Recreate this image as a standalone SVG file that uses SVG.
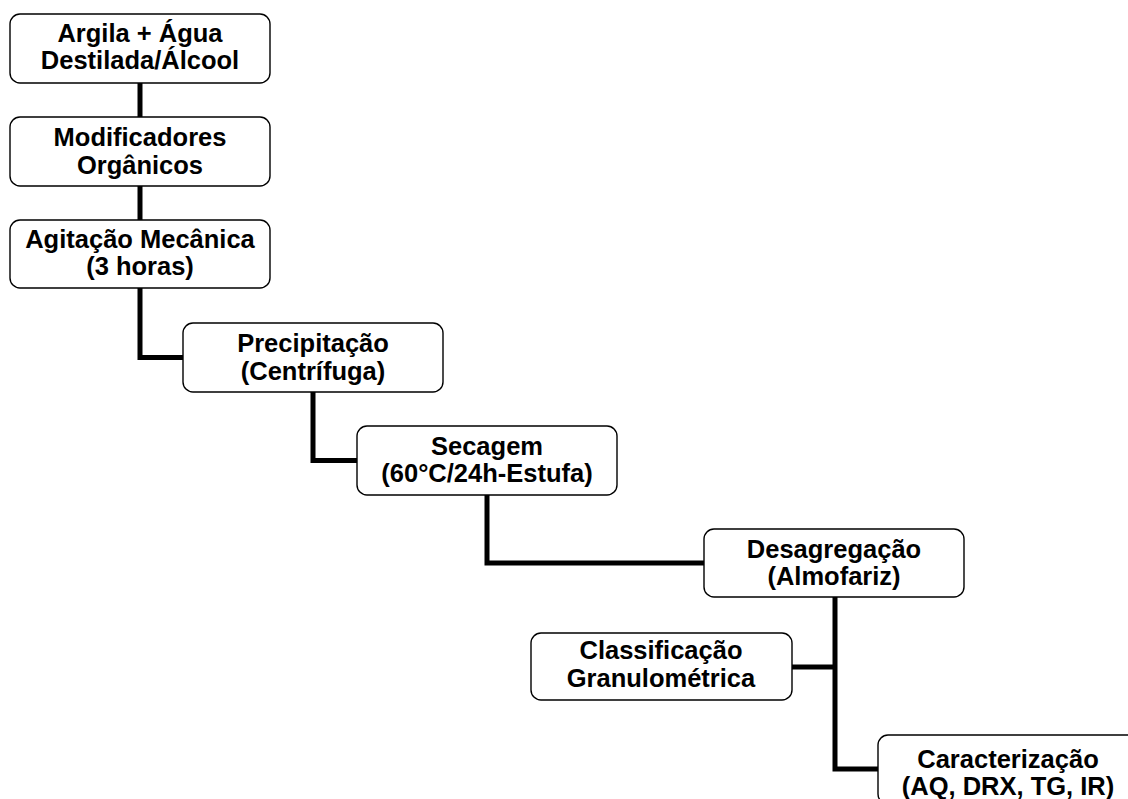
<svg xmlns="http://www.w3.org/2000/svg" width="1128" height="799" viewBox="0 0 1128 799">
<style>
.box{fill:#fff;stroke:#000;stroke-width:1.4}
.t{font-family:"Liberation Sans",Arial,sans-serif;font-weight:bold;font-size:25.5px;text-anchor:middle;fill:#000}
.c{fill:none;stroke:#000;stroke-width:5;stroke-linejoin:miter;stroke-linecap:butt}
</style>
<rect width="1128" height="799" fill="#fff"/>
<g id="connectors">
<path class="c" d="M140,83 V117"/>
<path class="c" d="M140,186 V220"/>
<path class="c" d="M140,288 V357.5 H183"/>
<path class="c" d="M313,392 V460.5 H357"/>
<path class="c" d="M487,495 V563 H704"/>
<path class="c" d="M835,597 V769 H878"/>
<path class="c" d="M792,667 H835"/>
</g>
<g id="n1"><rect class="box" x="10" y="14" width="260" height="69" rx="10"/><text class="t" x="140" y="42">Argila + Água</text><text class="t" x="140" y="69">Destilada/Álcool</text></g>
<g id="n2"><rect class="box" x="10" y="117" width="260" height="69" rx="10"/><text class="t" x="140" y="146">Modificadores</text><text class="t" x="140" y="174">Orgânicos</text></g>
<g id="n3"><rect class="box" x="10" y="220" width="260" height="68" rx="10"/><text class="t" x="140" y="248">Agitação Mecânica</text><text class="t" x="140" y="275">(3 horas)</text></g>
<g id="n4"><rect class="box" x="183" y="323" width="260" height="69" rx="10"/><text class="t" x="313" y="352">Precipitação</text><text class="t" x="313" y="380">(Centrífuga)</text></g>
<g id="n5"><rect class="box" x="357" y="426" width="260" height="69" rx="10"/><text class="t" x="487" y="455">Secagem</text><text class="t" x="487" y="482">(60°C/24h-Estufa)</text></g>
<g id="n6"><rect class="box" x="704" y="529" width="260" height="68" rx="10"/><text class="t" x="834" y="558">Desagregação</text><text class="t" x="834" y="585">(Almofariz)</text></g>
<g id="n7"><rect class="box" x="531" y="633" width="261" height="67" rx="10"/><text class="t" x="661" y="659">Classificação</text><text class="t" x="661" y="687">Granulométrica</text></g>
<g id="n8"><rect class="box" x="878" y="735" width="260" height="69" rx="10"/><text class="t" x="1008" y="768">Caracterização</text><text class="t" x="1008" y="795">(AQ, DRX, TG, IR)</text></g>
</svg>
